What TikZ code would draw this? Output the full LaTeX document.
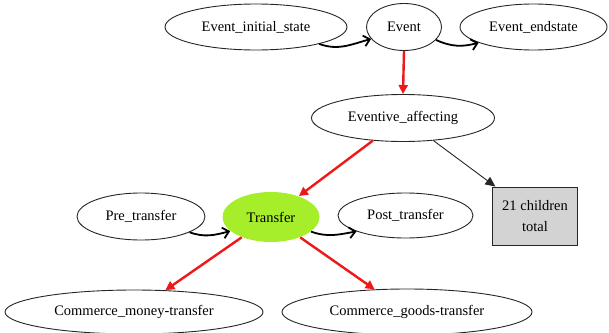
\documentclass[tikz,border=0pt]{standalone}
\usepackage{fontspec}
\setmainfont{Liberation Serif}
\usetikzlibrary{shapes.geometric,arrows.meta}
\definecolor{edgered}{RGB}{238,24,24}
\definecolor{hilite}{RGB}{166,238,42}
\definecolor{boxgray}{RGB}{211,211,211}
\tikzset{
  frame/.style={draw=black!85, line width=0.9pt, ellipse, inner sep=0pt,
    font=\fontsize{14.5}{16}\selectfont},
  countbox/.style={draw=black!85, line width=0.9pt, rectangle, fill=boxgray, inner sep=0pt,
    align=center, font=\fontsize{14.5}{21}\selectfont},
  inherit/.style={draw=edgered, line width=2.4pt, -{Triangle[length=9pt,width=9pt]}},
  sequence/.style={draw=black, line width=1.8pt, -{Straight Barb[length=6pt,width=11pt,line width=1.8pt]}},
  more/.style={draw=black!85, line width=0.9pt, -{Triangle[length=10pt,width=9pt]}}
}
\begin{document}
\begin{tikzpicture}[x=1pt,y=-1pt]
\useasboundingbox (0,0) rectangle (609,332);

% frame nodes
\node[frame, minimum width=182pt, minimum height=46pt] (ini)   at (256,27)   {Event\_initial\_state};
\node[frame, minimum width=75pt,  minimum height=47pt] (ev)    at (404,27)   {Event};
\node[frame, minimum width=147pt, minimum height=46pt] (endst) at (533.5,27) {Event\_endstate};
\node[frame, minimum width=183pt, minimum height=47pt] (ea)    at (403,118)  {Eventive\_affecting};
\node[countbox, minimum width=85pt, minimum height=58pt] (kids) at (535,216) {21 children\\total};
\node[frame, minimum width=128pt, minimum height=47pt] (pre)   at (141,216.5) {Pre\_transfer};
\node[frame, fill=hilite, draw=none, minimum width=97pt, minimum height=50pt] (tr) at (271,217) {Transfer};
\node[frame, minimum width=135pt, minimum height=45pt] (post)  at (405.5,215.5) {Post\_transfer};
\node[frame, minimum width=258pt, minimum height=44pt] (money) at (134,312)  {Commerce\_money-transfer};
\node[frame, minimum width=250pt, minimum height=46pt] (goods) at (407,312)  {Commerce\_goods-transfer};

% inheritance edges
\draw[inherit] (ev.south) -- (ea.north);
\draw[inherit] (ea) -- (tr);
\draw[inherit] (tr) -- (money);
\draw[inherit] (tr) -- (goods);

% remaining children
\draw[more] (ea) -- (kids);

% precedence edges
\draw[sequence] (ini.-15) to[out=-20, in=195] (ev.200);
\draw[sequence] (ev.-22) to[out=-25, in=195] (endst.196);
\draw[sequence] (pre.-18) to[out=-20, in=195] (tr.199);
\draw[sequence] (tr.-20) to[out=-20, in=190] (post.198);
\end{tikzpicture}
\end{document}
